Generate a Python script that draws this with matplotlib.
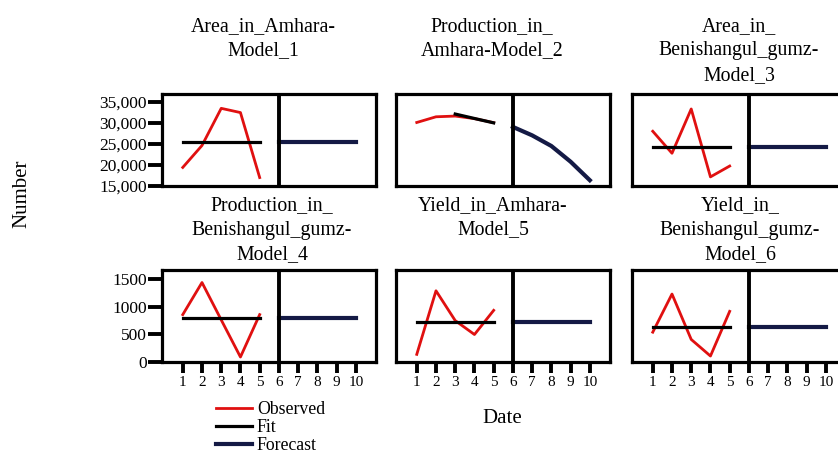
import matplotlib
matplotlib.use("Agg")
import matplotlib.pyplot as plt
from matplotlib.ticker import FuncFormatter

plt.rcParams['font.family'] = ['Liberation Serif', 'DejaVu Serif']

W, H = 838, 453

x_obs = [1, 2, 3, 4, 5]
x_fc = [6, 7, 8, 9, 10]

titles = ["Area_in_Amhara-\nModel_1",
          "Production_in_\nAmhara-Model_2",
          "Area_in_\nBenishangul_gumz-\nModel_3",
          "Production_in_\nBenishangul_gumz-\nModel_4",
          "Yield_in_Amhara-\nModel_5",
          "Yield_in_\nBenishangul_gumz-\nModel_6"]

# observed values (years 1..5)
area_amhara_obs = [19400, 24600, 33400, 32400, 17000]
prod_amhara_obs = [30050, 31400, 31570, 30970, 30000]
area_bg_obs = [27970, 22760, 33250, 17160, 19730]
prod_bg_obs = [855, 1434, 760, 90, 855]
yield_amhara_obs = [138, 1285, 747, 496, 932]
yield_bg_obs = [538, 1226, 407, 108, 914]

# fitted values
area_amhara_fit = [25400, 25400, 25400, 25400, 25400]
prod_amhara_fit_x = [3, 4, 5]
prod_amhara_fit = [32050, 31000, 29960]
area_bg_fit = [24290, 24290, 24290, 24290, 24290]
prod_bg_fit = [795, 795, 795, 795, 795]
yield_amhara_fit = [729, 729, 729, 729, 729]
yield_bg_fit = [627, 627, 627, 627, 627]

# forecasts (years 6..10)
area_amhara_fc = [25400, 25400, 25400, 25400, 25400]
prod_amhara_fc = [29000, 27000, 24480, 20760, 16370]
area_bg_fc = [24200, 24200, 24200, 24200, 24200]
prod_bg_fc = [795, 795, 795, 795, 795]
yield_amhara_fc = [729, 729, 729, 729, 729]
yield_bg_fc = [627, 627, 627, 627, 627]

panels = [
    (area_amhara_obs, x_obs, area_amhara_fit, area_amhara_fc),
    (prod_amhara_obs, prod_amhara_fit_x, prod_amhara_fit, prod_amhara_fc),
    (area_bg_obs, x_obs, area_bg_fit, area_bg_fc),
    (prod_bg_obs, x_obs, prod_bg_fit, prod_bg_fc),
    (yield_amhara_obs, x_obs, yield_amhara_fit, yield_amhara_fc),
    (yield_bg_obs, x_obs, yield_bg_fit, yield_bg_fc),
]

col_left = [162, 396, 632]
box_w = 214
row_top = [94, 270]
box_h = 92
title_x = [[263, 492, 739], [272, 493, 740]]
title_base = [31, 210]

red = '#e01010'
navy = '#141a45'

fig = plt.figure(figsize=(W / 100, H / 100), dpi=100)

handles = None
for i, (obs, fx, fit, fc) in enumerate(panels):
    r, c = divmod(i, 3)
    left = col_left[c] / W
    bottom = 1 - (row_top[r] + box_h) / H
    ax = fig.add_axes([left, bottom, box_w / W, box_h / H])
    h1, = ax.plot(x_obs, obs, color=red, lw=2, label='Observed')
    h2, = ax.plot(fx, fit, color='black', lw=2.3, label='Fit')
    h3, = ax.plot(x_fc, fc, color=navy, lw=3, label='Forecast')
    ax.axvline(6, color='black', lw=2.8)
    if handles is None:
        handles = [h1, h2, h3]
    ax.set_xlim(-0.08, 11.05)
    if r == 0:
        ax.set_ylim(15000, 36800)
        ax.set_yticks([15000, 20000, 25000, 30000, 35000])
        ax.yaxis.set_major_formatter(FuncFormatter(lambda v, p: f"{v:,.0f}"))
    else:
        ax.set_ylim(0, 1660)
        ax.set_yticks([0, 500, 1000, 1500])
    for s in ax.spines.values():
        s.set_linewidth(2.3)
    ax.tick_params(axis='y', direction='out', length=10, width=2.8, pad=1, labelsize=12.5)
    ax.tick_params(axis='x', direction='out', length=8, width=2.8, pad=2, labelsize=11)
    ax.set_xticks(range(1, 11))
    if r == 0:
        ax.tick_params(axis='x', bottom=False, labelbottom=False)
    if c != 0:
        ax.tick_params(axis='y', left=False, labelleft=False)

    for k, line in enumerate(titles[i].split('\n')):
        fig.text(title_x[r][c] / W, 1 - (title_base[r] + k * 24.5) / H, line,
                 ha='center', va='baseline', fontsize=14.3)

fig.text(22 / W, 1 - 194 / H, 'Number', rotation=90, ha='center', va='center', fontsize=15)
fig.text(502 / W, 1 - 423 / H, 'Date', ha='center', va='baseline', fontsize=15)

fig.legend(handles=handles, loc='upper left', bbox_to_anchor=(216 / W, 1 - 401 / H),
           frameon=False, fontsize=12.8, handlelength=2.0, handletextpad=0.3,
           labelspacing=0.05, borderpad=0, borderaxespad=0)

fig.savefig('out.png', dpi=100)
